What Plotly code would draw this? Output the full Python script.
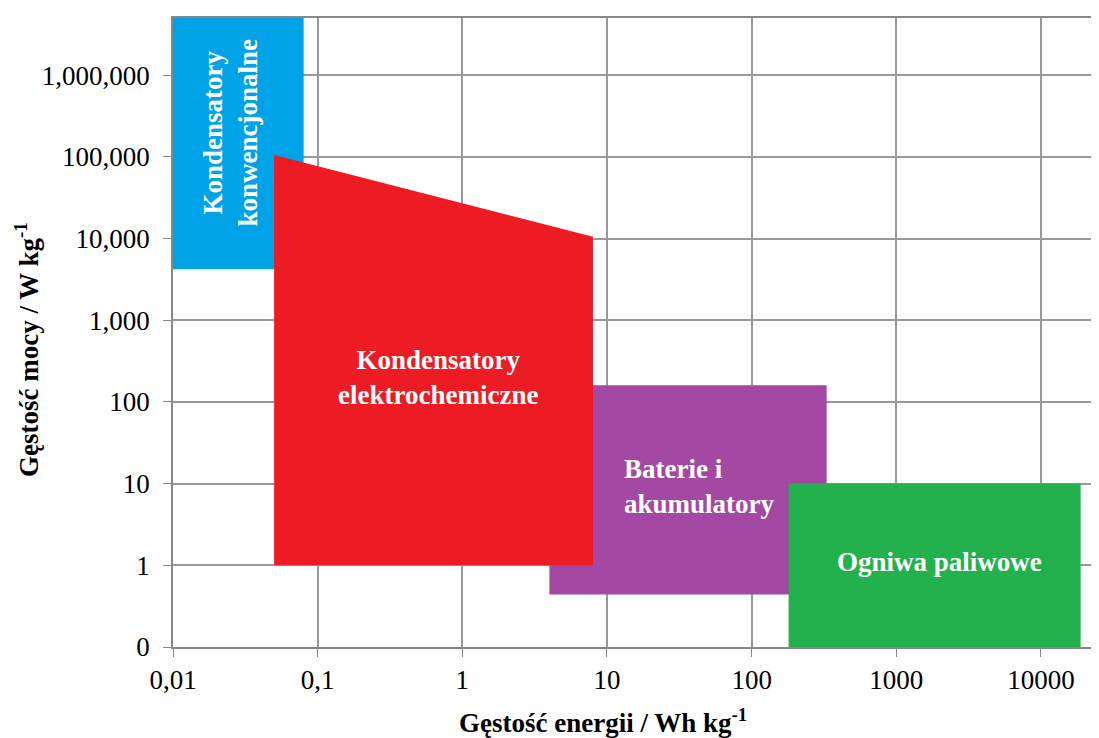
import numpy as np
import plotly.graph_objects as go

SERIF = "Liberation Serif, Times New Roman, DejaVu Serif, serif"

# Region boundaries (energy density Wh/kg, power density W/kg)
region_names = ["Kondensatory konwencjonalne", "Baterie i akumulatory",
                "Kondensatory elektrochemiczne", "Ogniwa paliwowe"]
region_colors = ["#00A2E8", "#A349A4", "#ED1C24", "#22B14C"]
blue_x = [0.01, 0.08, 0.08, 0.01]
blue_y = [5e6, 5e6, 4200, 4200]
purple_x = [4, 330, 330, 4]
purple_y = [160, 160, 0.44, 0.44]
red_x = [0.05, 8, 8, 0.05]
red_y = [105000, 10500, 1, 1]
green_x = [180, 18800, 18800, 180]
green_y = [10, 10, 0.1, 0.1]

x_tickvals = [0.01, 0.1, 1, 10, 100, 1000, 10000]
x_ticktext = ["0,01", "0,1", "1", "10", "100", "1000", "10000"]
y_tickvals = [0.1, 1, 10, 100, 1000, 10000, 100000, 1000000]
y_ticktext = ["0", "1", "10", "100", "1,000", "10,000", "100,000", "1,000,000"]

# label positions (data units)
lab_text = ["Kondensatory<br>konwencjonalne", "Kondensatory<br>elektrochemiczne",
            "Baterie i<br>akumulatory", "Ogniwa paliwowe"]
lab_x = [0.0249, 0.68, 12.7, 2000]
lab_y = [200000, 200, 9.3, 1.09]
lab_angle = [-90, 0, 0, 0]
lab_anchor = ["center", "center", "left", "center"]

# page offset compensation (browser body margin ~8px)
OFF = 8
W, H = 1099, 738
L, T, B = 173 - OFF, 18 - OFF, 91
fig_w, fig_h = W - OFF, H - OFF
plot_w = fig_w - L
plot_h = fig_h - T - B

fig = go.Figure()
for xs, ys, col, nm in zip([blue_x, purple_x, red_x, green_x],
                           [blue_y, purple_y, red_y, green_y],
                           region_colors, region_names):
    fig.add_trace(go.Scatter(x=xs, y=ys, fill="toself", fillcolor=col, mode="lines",
                             line=dict(width=0, color=col), name=nm, hoverinfo="skip"))

for t, x, y, a, anc in zip(lab_text, lab_x, lab_y, lab_angle, lab_anchor):
    fig.add_annotation(x=np.log10(x), y=np.log10(y), xref="x", yref="y", text="<b>" + t + "</b>",
                       showarrow=False, textangle=a, xanchor=anc, yanchor="middle",
                       align="left" if anc == "left" else "center",
                       font=dict(family=SERIF, size=27, color="white"))

fig.add_annotation(text="<b>Gęstość energii / Wh kg<sup>-1</sup></b>", xref="paper", yref="paper",
                   x=(603 - 173) / plot_w, y=-(721 - 647) / plot_h, showarrow=False,
                   xanchor="center", yanchor="middle",
                   font=dict(family=SERIF, size=27, color="black"))
fig.add_annotation(text="<b>Gęstość mocy / W kg<sup>-1</sup></b>", xref="paper", yref="paper",
                   x=-(173 - 27) / plot_w, y=(647 - 350) / plot_h, showarrow=False, textangle=-90,
                   xanchor="center", yanchor="middle",
                   font=dict(family=SERIF, size=27, color="black"))

fig.update_layout(
    width=fig_w, height=fig_h, showlegend=False,
    paper_bgcolor="white", plot_bgcolor="white",
    margin=dict(l=L, r=0, t=T, b=B, autoexpand=False),
    font=dict(family=SERIF, size=20, color="black"),
    xaxis=dict(type="log", range=[-2, 4.401], tickvals=x_tickvals, ticktext=x_ticktext,
               showgrid=True, gridcolor="#999999", gridwidth=1.5, showline=True, linecolor="#888888",
               linewidth=1.5, mirror=True, ticks="outside", ticklen=8, tickcolor="#888888",
               tickfont=dict(family=SERIF, size=27), zeroline=False, automargin=False),
    yaxis=dict(type="log", range=[-1, np.log10(5e6)], tickvals=y_tickvals, ticktext=y_ticktext,
               showgrid=True, gridcolor="#999999", gridwidth=1.5, showline=True, linecolor="#888888",
               linewidth=1.5, ticks="outside", ticklen=8, tickcolor="#888888",
               tickfont=dict(family=SERIF, size=27), zeroline=False, ticklabelstandoff=8,
               automargin=False),
)
fig.write_html("out.html")
